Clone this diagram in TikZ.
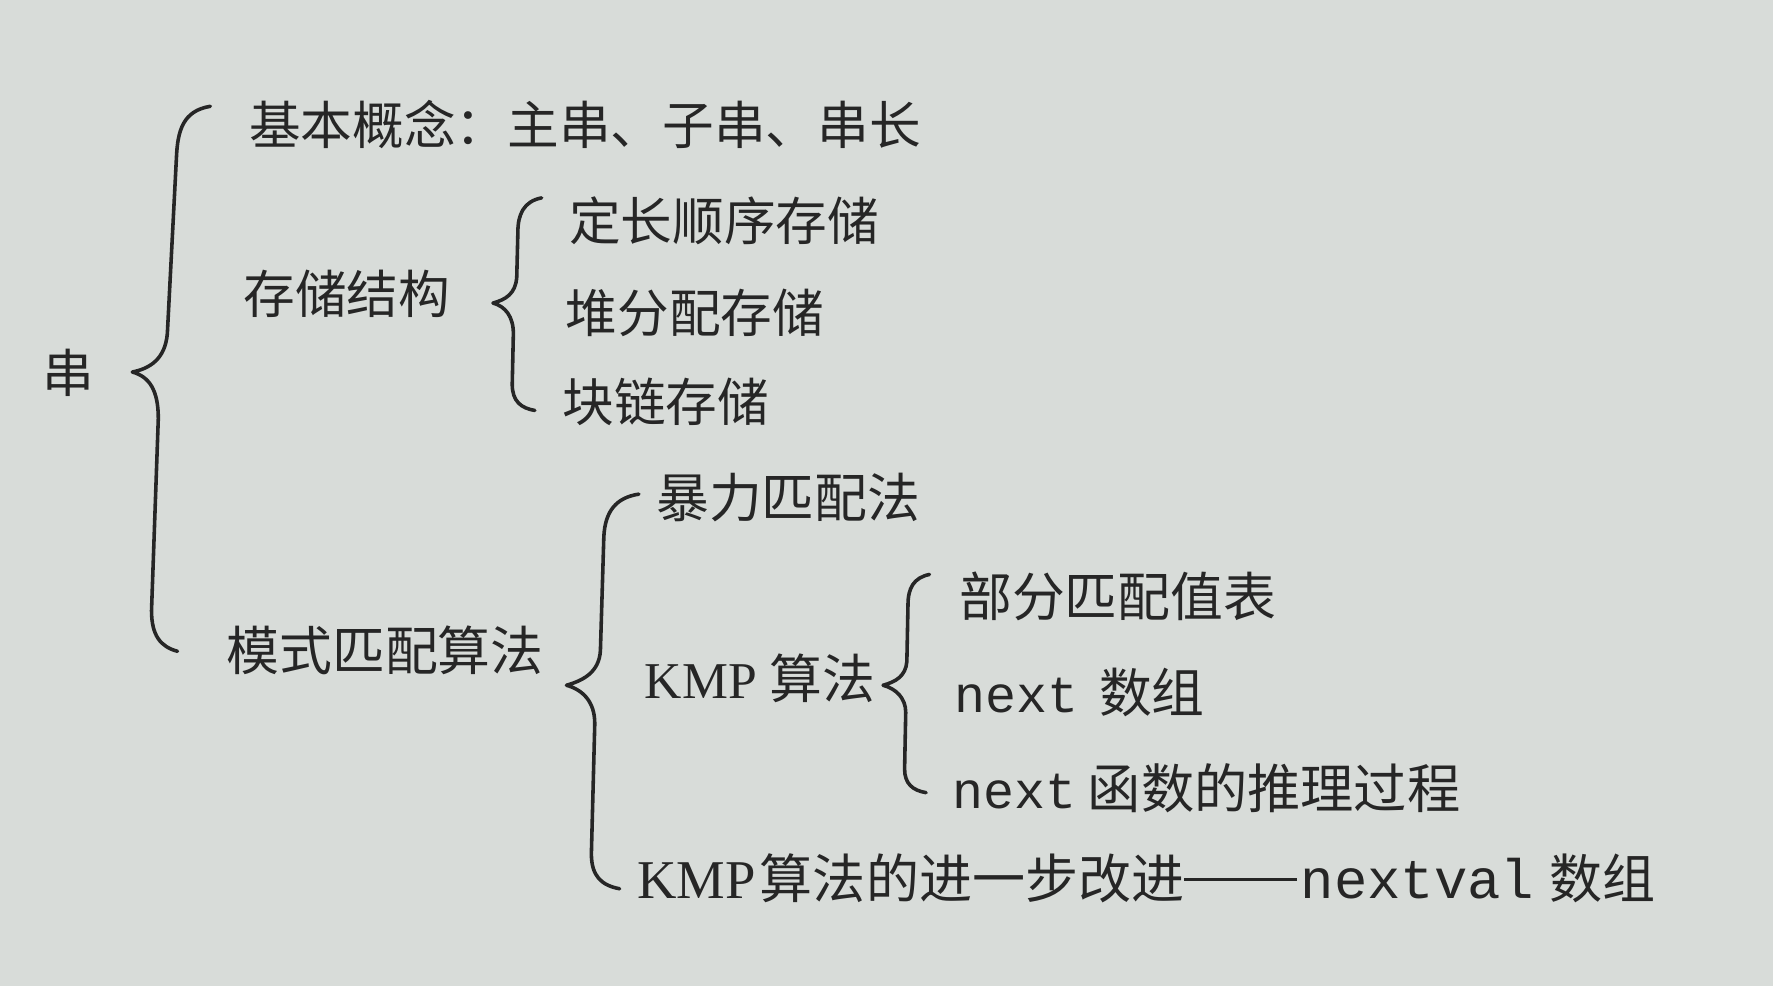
\documentclass[tikz,border=0pt]{standalone}
\usepackage{fontspec}
\setmainfont{Noto Sans CJK SC}
\newfontfamily\monof{Liberation Mono}
\newfontfamily\kmpf{Liberation Serif}
\definecolor{paper}{HTML}{D8DCD9}
\definecolor{ink}{HTML}{262626}
\newcommand{\fsz}[1]{\fontsize{#1}{#1}\selectfont}
\tikzset{
  lbl/.style={anchor=west,inner sep=0pt,text=ink,font=\fsz{26}},
  lblb/.style={lbl,font=\fsz{26.6}},
  bracepath/.style={draw=ink,line width=1.8pt,line cap=round,line join=round}
}
\begin{document}
\begin{tikzpicture}[x=0.02cm,y=-0.02cm]
\fill[paper] (0,0) rectangle (1568,872);
\useasboundingbox (0,0) rectangle (1568,872);
% root
\node[lbl,anchor=center] (root) at (60,330) {串};
% level 1
\node[lbl] (basic) at (220,110) {基本概念：主串、子串、串长};
\node[lbl] (store) at (215,260) {存储结构};
\node[lblb] (match) at (200,575) {模式匹配算法};
% storage children
\node[lbl] (s1) at (503,195) {定长顺序存储};
\node[lbl] (s2) at (500,277) {堆分配存储};
\node[lbl] (s3) at (497,355) {块链存储};
% matching children
\node[lblb] (m1) at (580,440) {暴力匹配法};
\node[lblb] (m2) at (570,600) {{\kmpf\fsz{26}KMP}\hspace{0.22cm}算法};
\node[lbl] (m3) at (563,777) {{\kmpf\fsz{27.5}KMP}\hspace{0.08cm}{\fsz{26.7}算法的进一步改进}\rule[0.34em]{2cm}{0.055cm}\hspace{0.06cm}{\monof\fsz{28}nextval}\hspace{0.26cm}{\fsz{26.7}数组}};
% KMP children
\node[lblb] (k1) at (848,527) {部分匹配值表};
\node[lblb] (k2) at (844,612) {{\monof\fsz{26}next}\hspace{0.36cm}数组};
\node[lblb] (k3) at (842,697) {{\monof\fsz{26}next}\hspace{0.2cm}{\fsz{26.8}函数的推理过程}};
% braces
\coordinate (b1tip) at (117,329);
\coordinate (b2tip) at (436,268);
\coordinate (b3tip) at (501,606);
\coordinate (b4tip) at (781,606);
\draw[bracepath] (186,94) .. controls (162,98) and (157,115) .. (156,140) -- (148,295)
  .. controls (146,318) and (132,326) .. (b1tip)
  .. controls (132,333) and (140,345) .. (140,370) -- (134,540)
  .. controls (134,562) and (142,572) .. (157,576);
\draw[bracepath] (479,175) .. controls (463,178) and (458,190) .. (458,205) -- (457,245)
  .. controls (456,260) and (447,265) .. (b2tip)
  .. controls (447,271) and (454,280) .. (454,295) -- (453,340)
  .. controls (453,355) and (461,361) .. (473,363);
\draw[bracepath] (565,437) .. controls (545,440) and (535,452) .. (534,475) -- (531,575)
  .. controls (530,595) and (515,602) .. (b3tip)
  .. controls (515,610) and (526,620) .. (526,640) -- (523,755)
  .. controls (523,775) and (532,783) .. (548,786);
\draw[bracepath] (822,508) .. controls (808,511) and (803,520) .. (803,535) -- (802,585)
  .. controls (801,598) and (792,603) .. (b4tip)
  .. controls (792,609) and (801,617) .. (801,630) -- (800,680)
  .. controls (800,693) and (807,699) .. (819,701);
\end{tikzpicture}
\end{document}
